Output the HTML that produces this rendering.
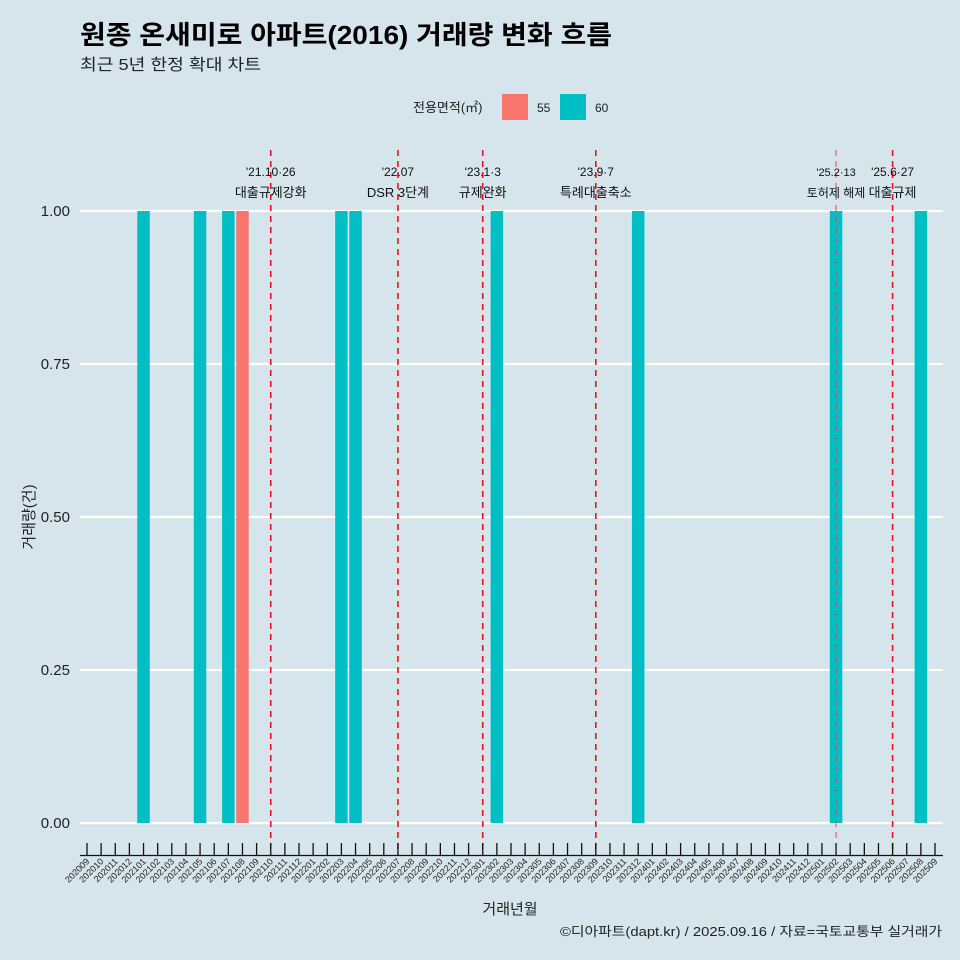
<!DOCTYPE html>
<html><head><meta charset="utf-8"><style>
body{margin:0;background:#d6e4eb;}
svg{display:block;font-family:"Liberation Sans","Noto Sans CJK KR",sans-serif;}
</style></head><body>
<svg id="c" width="960" height="960" viewBox="0 0 960 960">
<rect width="960" height="960" fill="#d6e4eb"/>
<text x="80" y="44" font-size="26" font-weight="bold" fill="#000" textLength="532" lengthAdjust="spacingAndGlyphs">원종 온새미로 아파트(2016) 거래량 변화 흐름</text>
<text x="80" y="70" font-size="16" fill="#222" textLength="181" lengthAdjust="spacingAndGlyphs">최근 5년 한정 확대 차트</text>
<g>
<text x="413" y="112" font-size="13" fill="#222">전용면적(㎡)</text>
<rect x="502" y="94" width="26" height="26" fill="#f8766d"/>
<text x="537" y="112" font-size="12" fill="#222">55</text>
<rect x="560" y="94" width="26" height="26" fill="#00bfc4"/>
<text x="595" y="112" font-size="12" fill="#222">60</text>
</g>
<g id="grid"></g><g id="bars"></g><g id="events"></g><g id="axes"></g>
<text x="510" y="914" font-size="15" text-anchor="middle" fill="#222">거래년월</text>
<text transform="translate(34,517) rotate(-90)" font-size="15" text-anchor="middle" fill="#222">거래량(건)</text>
<text x="560" y="936" font-size="13" fill="#222" textLength="382" lengthAdjust="spacingAndGlyphs">©디아파트(dapt.kr) / 2025.09.16 / 자료=국토교통부 실거래가</text>
</svg>
<script>
const months=[];for(let y=2020;y<=2025;y++)for(let m=1;m<=12;m++){const k=y*100+m;if(k>=202009&&k<=202509)months.push(String(k));}
const yTicks=[0,0.25,0.5,0.75,1.0];
const yLabels=["0.00","0.25","0.50","0.75","1.00"];
const barMonths=["202101","202105","202107","202108","202203","202204","202302","202312","202502","202508"];
const barArea=["60","60","60","55","60","60","60","60","60","60"];
const barValues=[1,1,1,1,1,1,1,1,1,1];
const eventMonths=["202110","202207","202301","202309","202502","202506"];
const eventDates=["'21.10·26","'22.07","'23.1·3","'23.9·7","'25.2·13","'25.6·27"];
const eventTexts=["대출규제강화","DSR 3단계","규제완화","특례대출축소","토허제 해제","대출규제"];
const NS="http://www.w3.org/2000/svg";
const X=i=>87+i*(935-87)/(months.length-1);
const Y=v=>823-v*(823-211);
const bw=12.5;
function mk(t,a,p){const e=document.createElementNS(NS,t);for(const k in a)e.setAttribute(k,a[k]);p.appendChild(e);return e;}
const grid=document.getElementById('grid'),bars=document.getElementById('bars'),ev=document.getElementById('events'),ax=document.getElementById('axes');
yTicks.forEach((v,i)=>{
 const l=mk('line',{x1:80,x2:943,y1:Y(v),y2:Y(v),stroke:'#fff','stroke-width':2.2},grid);
 
 
 const t=mk('text',{x:70,y:Y(v)+5,'font-size':15,'text-anchor':'end',fill:'#222'},grid);t.textContent=yLabels[i];
 
 
});
barMonths.forEach((m,i)=>{
 const x=X(months.indexOf(m));
 const r=mk('rect',{x:x-bw/2,y:Y(barValues[i]),width:bw,height:Y(0)-Y(barValues[i]),fill:barArea[i]==="55"?'#f8766d':'#00bfc4'},bars);
 
 
});
eventMonths.forEach((m,i)=>{
 const x=X(months.indexOf(m));
 const thin=m==="202502";
 const l=mk('line',{x1:x,x2:x,y1:150,y2:855,stroke:thin?'#e8444a':'#e8141c','stroke-width':thin?1:1.6,'stroke-dasharray':'6,5'},ev);
 
 
 const fs=thin?11:12;
 const t1=mk('text',{x:x,y:176,'font-size':fs,'text-anchor':'middle',fill:'#111'},ev);t1.textContent=eventDates[i];
 
 
 const t2=mk('text',{x:x,y:197,'font-size':fs+1,'text-anchor':'middle',fill:'#111'},ev);t2.textContent=eventTexts[i];
 
 
});
const al=mk('line',{x1:80,x2:943,y1:855.5,y2:855.5,stroke:'#111','stroke-width':1.3},ax);


months.forEach((m,i)=>{
 const x=X(i);
 const tk=mk('line',{x1:x,x2:x,y1:843,y2:855,stroke:'#111','stroke-width':1.3},ax);
 
 
 const t=mk('text',{x:x+3,y:862,'font-size':9,'text-anchor':'end',fill:'#222',transform:`rotate(-45 ${x+3} 862)`},ax);t.textContent=m;
 
 
});
</script>
</body></html>
